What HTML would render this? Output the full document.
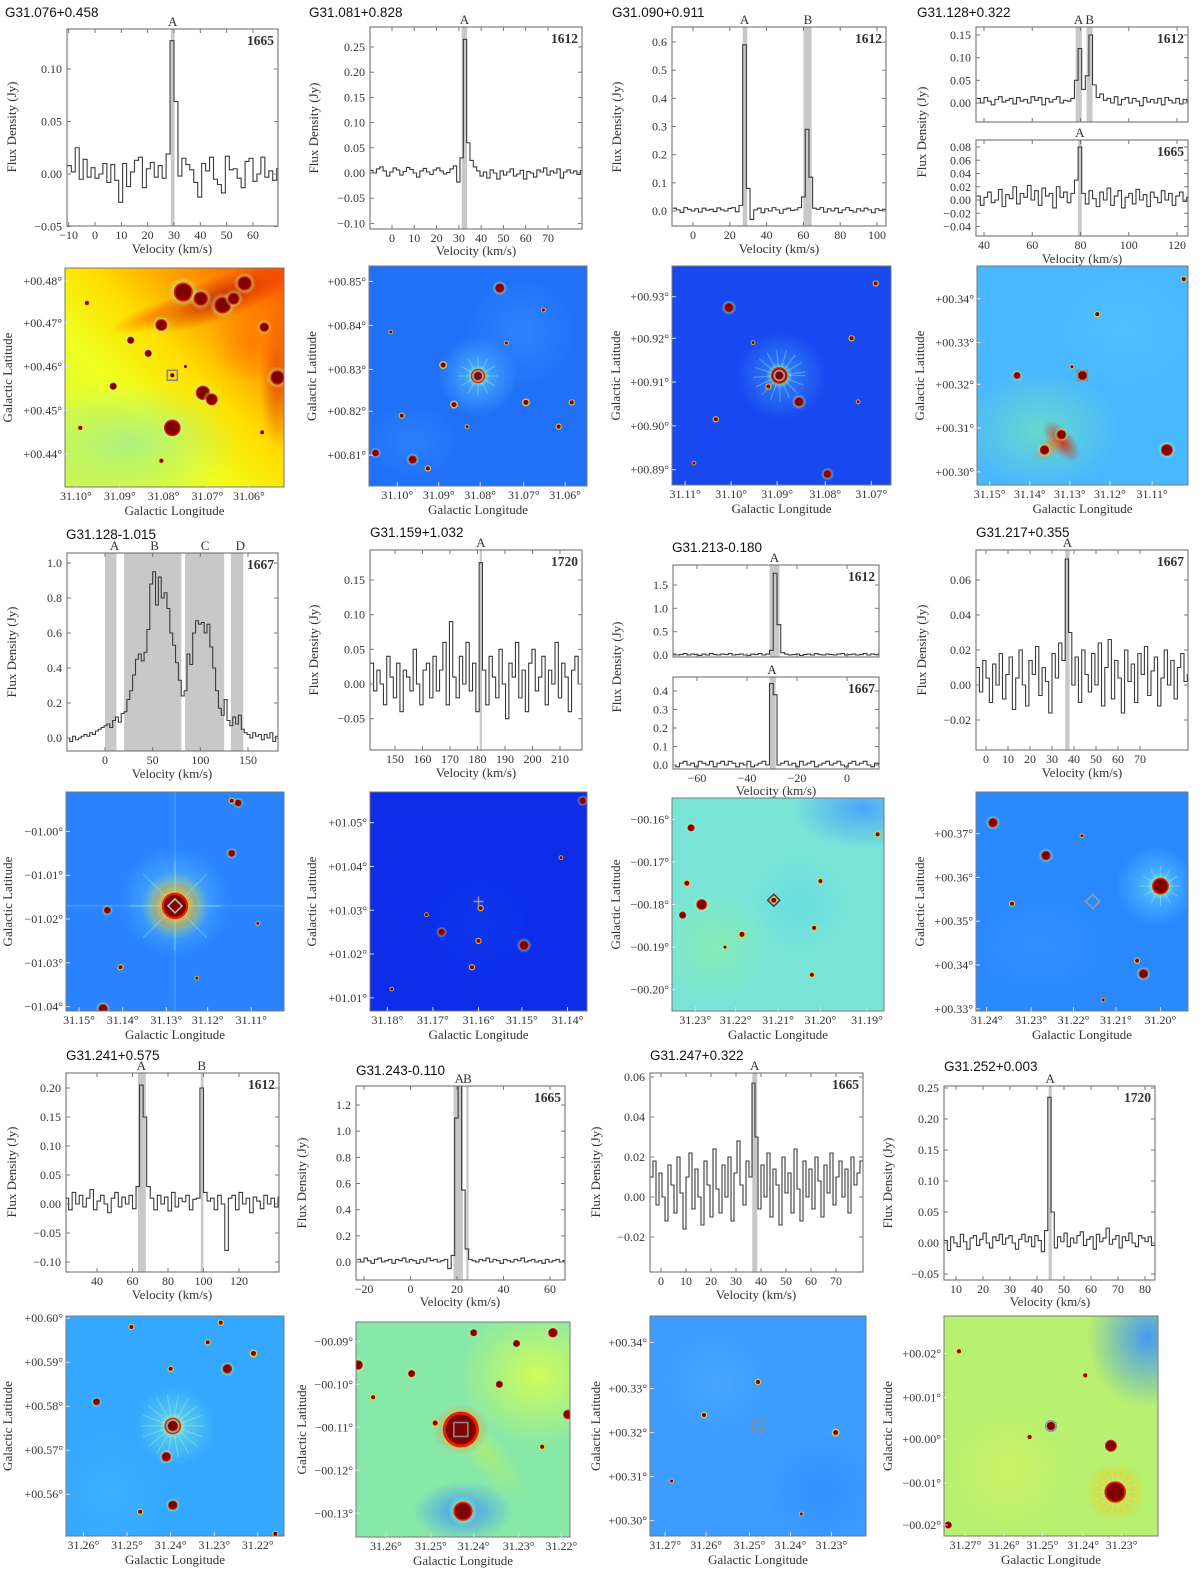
<!DOCTYPE html>
<html><head><meta charset="utf-8"><title>OH maser spectra and images</title>
<style>
html,body{margin:0;padding:0;background:#fff;}
svg{display:block;}
text{font-family:"Liberation Serif","DejaVu Serif",serif;fill:#333;}
.ttl{font-family:"Liberation Sans","DejaVu Sans",sans-serif;font-size:13.5px;fill:#111;}
</style></head>
<body>
<svg id="fig" xmlns="http://www.w3.org/2000/svg" width="1200" height="1571" viewBox="0 0 1200 1571">
<defs id="defs"></defs>
</svg>
<script>
// ---------------- spectral data (flux density, Jy) ----------------
const p1V0=-10.5, p1Dv=1.5;
const p1Flux=[0.008,0.002,0.025,-0.005,0.014,-0.003,0.006,-0.004,0.000,0.010,-0.008,0.009,-0.006,-0.027,0.010,-0.012,0.002,0.013,0.016,-0.013,0.005,0.011,-0.003,0.008,-0.004,0.019,0.127,0.069,-0.002,0.015,0.009,0.004,-0.008,-0.022,0.010,0.003,0.016,-0.005,-0.010,-0.018,0.017,0.004,0.005,-0.004,-0.013,0.012,0.015,-0.007,0.000,0.016,-0.003,0.003,-0.006,0.005];
const p1Bands=[[28.8,30.2]];
const p1Marks=['A'], p1MarkV=[29.5];

const p2V0=-10, p2Dv=1.5;
const p2Flux=[0.005,0.000,0.008,0.012,0.004,-0.006,0.002,0.010,0.006,-0.004,0.003,0.011,0.007,0.000,-0.008,0.004,0.009,0.002,-0.003,0.006,0.010,0.004,-0.002,0.001,0.008,0.014,-0.018,0.030,0.265,0.060,0.025,0.012,0.004,-0.006,0.002,-0.010,0.006,0.000,-0.012,0.004,-0.004,0.002,0.008,-0.006,-0.002,0.005,-0.012,0.003,0.000,-0.008,0.006,0.002,0.010,-0.004,0.004,0.000,0.008,-0.010,0.002,0.006,0.000,0.004,-0.003,0.005];
const p2Bands=[[31.3,33.7]];
const p2Marks=['A'], p2MarkV=[32.5];

const p3V0=-11, p3Dv=2;
const p3Flux=[0.010,0.004,-0.005,0.012,0.006,0.000,0.008,-0.004,0.010,0.003,0.006,-0.002,0.011,0.004,0.000,0.009,0.012,-0.003,0.020,0.590,0.080,-0.030,0.004,0.010,-0.006,0.008,0.000,0.012,0.004,-0.008,0.006,0.010,0.002,0.004,0.012,0.050,0.290,0.120,0.010,0.006,0.012,-0.004,0.008,0.000,0.010,-0.006,0.004,0.012,0.002,-0.004,0.008,0.000,0.010,0.004,-0.006,0.008,0.002,0.006];
const p3Bands=[[27,29.5],[60,64.5]];
const p3Marks=['A','B'], p3MarkV=[28,62.5];

const p4aV0=37, p4aDv=1.5;
const p4aFlux=[0.010,0.000,0.012,0.004,-0.004,0.008,0.014,0.002,0.006,0.010,-0.002,0.012,0.004,0.008,0.000,0.014,0.006,0.012,-0.004,0.010,0.002,0.008,0.014,0.000,0.006,0.004,0.010,0.050,0.120,0.030,0.060,0.150,0.040,0.012,0.020,0.006,0.010,0.000,0.014,-0.004,0.008,0.012,0.000,0.010,0.004,-0.006,0.012,0.002,0.008,0.000,0.010,-0.004,0.012,0.006,0.000,0.010,-0.002,0.008,0.004];
const p4aBands=[[78,80.5],[82.5,85]];
const p4aMarks=['A','B'], p4aMarkV=[79.2,83.8];
const p4bV0=37, p4bDv=1.5;
const p4bFlux=[0.006,-0.008,0.004,0.012,-0.004,0.000,0.016,-0.010,0.008,0.002,0.020,-0.006,0.010,0.004,0.022,0.000,0.014,-0.008,0.018,0.006,0.010,-0.012,0.020,0.004,0.012,-0.004,0.010,0.030,0.080,0.010,-0.006,0.014,0.002,-0.010,0.012,0.000,0.018,-0.008,0.006,0.014,-0.012,0.004,0.010,-0.006,0.016,0.000,0.008,-0.010,0.012,0.004,-0.004,0.014,0.000,0.010,-0.008,0.006,0.012,-0.002,0.004];
const p4bBands=[[79,80.5]];
const p4bMarks=['A'], p4bMarkV=[79.7];

const p5V0=-40, p5Dv=3;
const p5Flux=[0.00,-0.02,0.01,-0.01,0.00,0.01,0.02,0.01,0.03,0.02,0.04,0.05,0.06,0.07,0.08,0.06,0.10,0.12,0.09,0.14,0.15,0.22,0.27,0.36,0.45,0.48,0.44,0.49,0.62,0.88,0.95,0.76,0.92,0.80,0.83,0.74,0.60,0.53,0.43,0.33,0.24,0.27,0.48,0.42,0.60,0.67,0.65,0.66,0.60,0.65,0.52,0.40,0.27,0.17,0.13,0.22,0.10,0.07,0.12,0.08,0.13,0.05,0.03,0.02,0.00,0.03,0.01,0.02,-0.01,0.02,0.00,0.03,-0.02,0.01];
const p5Bands=[[0,12],[20,80],[84,125],[132,145]];
const p5Marks=['A','B','C','D'], p5MarkV=[10,52,105,142];

const p6V0=141, p6Dv=1.2;
const p6Flux=[0.030,-0.010,0.020,0.000,-0.030,0.040,0.010,-0.020,0.030,-0.040,0.020,0.010,-0.010,0.050,0.000,-0.030,0.020,0.030,-0.020,0.040,-0.010,0.020,0.060,-0.030,0.090,0.010,-0.020,0.040,0.000,0.060,-0.010,0.030,-0.040,0.175,0.020,-0.030,0.040,0.010,-0.020,0.050,0.000,-0.050,0.030,0.010,0.060,-0.020,0.020,-0.040,0.030,0.050,-0.010,0.010,0.040,-0.030,0.020,0.000,0.060,-0.020,0.030,0.010,-0.040,0.020,0.040,0.000];
const p6Bands=[[180.8,181.6]];
const p6Marks=['A'], p6MarkV=[181.2];

const p7aV0=-70, p7aDv=1.5;
const p7aFlux=[0.02,0.00,0.01,0.03,0.00,0.02,0.01,-0.01,0.02,0.00,0.03,0.01,0.00,0.02,0.01,0.03,0.00,0.01,0.02,0.00,-0.01,0.02,0.01,0.03,0.00,0.02,0.10,1.75,0.65,0.05,0.02,0.00,0.01,0.02,-0.01,0.01,0.02,0.00,0.03,0.01,0.00,0.02,0.01,0.00,0.02,0.03,0.00,0.01,0.02,0.00,0.01,0.03,0.00,0.02,0.01,0.02];
const p7aBands=[[-31,-27]];
const p7aMarks=['A'], p7aMarkV=[-29];
const p7bV0=-70, p7bDv=1.5;
const p7bFlux=[0.00,-0.01,0.01,0.02,0.00,0.01,-0.01,0.02,0.01,0.00,0.02,-0.01,0.01,0.02,0.00,0.02,0.01,-0.01,0.01,0.00,0.02,-0.01,0.00,0.01,0.02,0.00,0.44,0.38,0.00,0.01,0.02,0.00,0.01,-0.01,0.02,0.00,0.01,0.02,-0.01,0.00,0.01,0.02,0.00,0.01,0.02,0.00,-0.01,0.01,0.02,0.00,0.01,0.02,0.00,-0.01,0.01,0.00];
const p7bBands=[[-31,-28.5]];
const p7bMarks=['A'], p7bMarkV=[-30];

const p8V0=-4.5, p8Dv=1.5;
const p8Flux=[0.010,-0.004,0.014,0.004,-0.010,0.012,0.000,0.018,-0.008,0.006,0.016,-0.014,0.004,0.020,0.000,-0.012,0.014,0.006,0.022,-0.006,0.010,0.002,-0.016,0.018,0.004,0.024,0.014,0.072,0.030,0.000,0.016,-0.010,0.020,0.006,-0.004,0.018,0.000,0.024,-0.012,0.010,0.026,-0.008,0.014,0.004,-0.016,0.020,0.002,0.012,-0.010,0.018,0.006,0.022,-0.006,0.008,0.016,-0.012,0.004,0.020,0.000,0.014,-0.008,0.010,0.018,0.002,0.006];
const p8Bands=[[36,38]];
const p8Marks=['A'], p8MarkV=[37];

const p9V0=22, p9Dv=2;
const p9Flux=[0.010,-0.010,0.020,0.000,0.015,-0.005,0.010,0.025,-0.010,0.005,0.015,0.000,-0.015,0.010,0.020,-0.005,0.012,0.000,0.015,-0.008,0.030,0.205,0.150,0.030,0.010,-0.010,0.015,0.000,0.012,-0.012,0.020,-0.005,0.010,0.004,0.015,-0.010,0.008,0.010,0.200,0.020,0.005,0.010,-0.010,0.015,0.000,-0.080,0.010,0.015,-0.010,0.020,0.000,0.010,-0.015,0.012,0.005,-0.008,0.015,0.000,0.010,-0.005,0.012];
const p9Bands=[[63,67.5],[98.5,100]];
const p9Marks=['A','B'], p9MarkV=[65,99];

const p10V0=-23, p10Dv=1.5;
const p10Flux=[0.02,0.00,0.03,0.01,-0.01,0.02,0.03,0.00,0.01,0.02,-0.01,0.02,0.01,0.03,0.00,0.02,0.01,-0.01,0.02,0.00,0.03,0.01,0.02,0.00,0.01,0.02,-0.05,0.05,1.10,1.35,0.55,0.10,0.02,0.01,0.00,0.02,0.01,0.03,0.00,0.02,0.01,-0.01,0.02,0.01,0.00,0.02,0.01,0.03,0.00,0.01,0.02,0.00,0.01,-0.01,0.02,0.00,0.01,0.02,0.00,0.01];
const p10Bands=[[18.5,22.5],[24,25]];
const p10Marks=['A','B'], p10MarkV=[21,24.5];

const p11V0=-4.4, p11Dv=1.2;
const p11Flux=[0.010,0.018,-0.004,0.012,0.000,-0.012,0.016,0.006,-0.008,0.020,0.002,-0.016,0.010,0.022,-0.006,0.014,0.000,-0.014,0.018,0.006,-0.010,0.024,0.004,-0.008,0.016,0.000,0.020,-0.012,0.012,0.028,0.006,-0.004,0.018,0.010,0.057,0.030,-0.006,0.016,0.000,0.022,-0.010,0.014,0.006,-0.014,0.020,0.002,0.012,-0.008,0.024,0.004,-0.012,0.018,0.000,0.014,-0.006,0.020,0.008,-0.010,0.016,0.002,0.022,-0.004,0.010,0.018,0.000,0.014,-0.008,0.020,0.006,0.012,0.018];
const p11Bands=[[36.5,38.5]];
const p11Marks=['A'], p11MarkV=[37.5];

const p12V0=5.6, p12Dv=1.2;
const p12Flux=[0.004,-0.012,0.010,0.000,-0.006,0.014,0.002,-0.010,0.008,0.012,-0.004,0.006,0.016,0.000,-0.008,0.010,0.004,0.014,-0.002,0.008,0.012,0.000,-0.010,0.006,0.014,0.002,0.010,-0.006,0.012,0.004,-0.014,0.020,0.235,0.050,-0.008,0.010,0.002,0.016,-0.006,0.008,0.000,0.012,0.018,-0.004,0.006,0.010,-0.010,0.014,0.002,0.008,0.024,-0.002,0.006,0.012,-0.008,0.010,0.004,0.016,0.000,-0.006,0.012,0.008,0.002,0.010,-0.004];
const p12Bands=[[44.3,45.5]];
const p12Marks=['A'], p12MarkV=[44.9];

// tick values
const p1XT=[-10,0,10,20,30,40,50,60], p1YT=[-0.05,0,0.05,0.10];
const p2XT=[0,10,20,30,40,50,60,70], p2YT=[-0.10,-0.05,0,0.05,0.10,0.15,0.20,0.25];
const p3XT=[0,20,40,60,80,100], p3YT=[0,0.1,0.2,0.3,0.4,0.5,0.6];
const p4XT=[40,60,80,100,120], p4aYT=[0,0.05,0.10,0.15], p4bYT=[-0.04,-0.02,0,0.02,0.04,0.06,0.08];
const p5XT=[0,50,100,150], p5YT=[0,0.2,0.4,0.6,0.8,1.0];
const p6XT=[150,160,170,180,190,200,210], p6YT=[-0.05,0,0.05,0.10,0.15];
const p7XT=[-60,-40,-20,0], p7aYT=[0,0.5,1.0,1.5], p7bYT=[0,0.1,0.2,0.3,0.4];
const p8XT=[0,10,20,30,40,50,60,70], p8YT=[-0.02,0,0.02,0.04,0.06];
const p9XT=[40,60,80,100,120], p9YT=[-0.10,-0.05,0,0.05,0.10,0.15,0.20];
const p10XT=[-20,0,20,40,60], p10YT=[0,0.2,0.4,0.6,0.8,1.0,1.2];
const p11XT=[0,10,20,30,40,50,60,70], p11YT=[-0.02,0,0.02,0.04,0.06];
const p12XT=[10,20,30,40,50,60,70,80], p12YT=[-0.05,0,0.05,0.10,0.15,0.20,0.25];

// ---------------- helpers ----------------
const NS='http://www.w3.org/2000/svg';
const svg=document.getElementById('fig');
const defs=document.getElementById('defs');
let uid=0;
function mk(tag,attrs,parent){const e=document.createElementNS(NS,tag);for(const k in attrs)e.setAttribute(k,attrs[k]);(parent||svg).appendChild(e);return e;}
function lin(a0,p0,a1,p1){const s=(p1-p0)/(a1-a0);return v=>p0+(v-a0)*s;}
function fmt(v,d){const s=Math.abs(v).toFixed(d);return (v<-1e-9?'\u2212':'')+s;}
function txt(str,x,y,size,anchor,parent,cls){const t=mk('text',{x:x,y:y,'font-size':size,'text-anchor':anchor||'start'},parent);if(cls)t.setAttribute('class',cls);t.textContent=str;return t;}

function drawTitle(str,x,y){
  const t=txt(str,x,y,13.5,'start',svg,'ttl');
  
  
}
function yLabel(str,x,yc,parent){
  const t=mk('text',{x:x,y:yc,'font-size':13,'text-anchor':'middle',transform:'rotate(-90 '+x+' '+yc+')',fill:'#444'},parent);
  t.textContent=str;
  
  
}
function xLabel(str,xc,y,parent){
  const t=mk('text',{x:xc,y:y,'font-size':13,'text-anchor':'middle',fill:'#444'},parent);
  t.textContent=str;
  
  
}

// spectrum sub-panel
function spec(o){
  const g=mk('g',{});
  
  
  const b=o.box, xs=lin(o.xc[0],o.xc[1],o.xc[2],o.xc[3]), ys=lin(o.yc[0],o.yc[1],o.yc[2],o.yc[3]);
  const id='cp'+(uid++);
  const cp=mk('clipPath',{id:id},defs);
  mk('rect',{x:b[0],y:b[2],width:b[1]-b[0],height:b[3]-b[2]},cp);
  const inner=mk('g',{'clip-path':'url(#'+id+')'},g);
  o.bands.forEach(bd=>{
    const r=mk('rect',{x:xs(bd[0]),y:b[2],width:xs(bd[1])-xs(bd[0]),height:b[3]-b[2],fill:'#c8c8c8'},inner);
    
    
  });
  let d='';
  o.flux.forEach((f,i)=>{const xa=xs(o.v0+i*o.dv),xb=xs(o.v0+(i+1)*o.dv),y=ys(f);d+=(i===0?'M'+xa+' '+y:'V'+y)+'H'+xb;});
  const p=mk('path',{d:d,fill:'none',stroke:'#3a3a3a','stroke-width':1.1},inner);
  
  
  const fr=mk('rect',{x:b[0],y:b[2],width:b[1]-b[0],height:b[3]-b[2],fill:'none',stroke:'#666','stroke-width':1},g);
  
  
  o.xt.forEach(v=>{
    const x=xs(v);
    mk('line',{x1:x,x2:x,y1:b[3],y2:b[3]-4,stroke:'#777'},g);
    mk('line',{x1:x,x2:x,y1:b[2],y2:b[2]+4,stroke:'#777'},g);
    if(o.showX){const t=txt(fmt(v,0),x,b[3]+13,12,'middle',g);
      
      }
  });
  o.yt.forEach(v=>{
    const y=ys(v);
    mk('line',{x1:b[0],x2:b[0]+4,y1:y,y2:y,stroke:'#777'},g);
    mk('line',{x1:b[1],x2:b[1]-4,y1:y,y2:y,stroke:'#777'},g);
    const t=txt(fmt(v,o.yd),b[0]-5,y+4,12,'end',g);
    
    
  });
  o.marks.forEach((m,i)=>{
    const t=txt(m,xs(o.markV[i]),b[2]-3,13,'middle',g);
    
    
  });
  const tr=txt(o.freq,b[1]-4,b[2]+16,13.5,'end',g);
  tr.setAttribute('font-weight','bold');
  tr.setAttribute('fill','#111');
  
  
}

// ---------------- spectra ----------------
drawTitle('G31.076+0.458',5,17);
spec({box:[67,278,29,226],xc:[0,95,60,253],yc:[0,174,0.10,69],v0:p1V0,dv:p1Dv,flux:p1Flux,bands:p1Bands,marks:p1Marks,markV:p1MarkV,xt:p1XT,yt:p1YT,yd:2,showX:true,freq:'1665'});
yLabel('Flux Density (Jy)',16,127);xLabel('Velocity (km/s)',172,253);

drawTitle('G31.081+0.828',309,17);
spec({box:[370,582,27,229],xc:[0,392,70,548],yc:[0,173,0.25,47],v0:p2V0,dv:p2Dv,flux:p2Flux,bands:p2Bands,marks:p2Marks,markV:p2MarkV,xt:p2XT,yt:p2YT,yd:2,showX:true,freq:'1612'});
yLabel('Flux Density (Jy)',318,128);xLabel('Velocity (km/s)',476,255);

drawTitle('G31.090+0.911',612,17);
spec({box:[672,886,27,226],xc:[0,693,100,877],yc:[0,211,0.6,42],v0:p3V0,dv:p3Dv,flux:p3Flux,bands:p3Bands,marks:p3Marks,markV:p3MarkV,xt:p3XT,yt:p3YT,yd:1,showX:true,freq:'1612'});
yLabel('Flux Density (Jy)',621,127);xLabel('Velocity (km/s)',779,253);

drawTitle('G31.128+0.322',917,17);
spec({box:[976,1188,27,122],xc:[40,984,120,1177],yc:[0,103,0.15,35],v0:p4aV0,dv:p4aDv,flux:p4aFlux,bands:p4aBands,marks:p4aMarks,markV:p4aMarkV,xt:p4XT,yt:p4aYT,yd:2,showX:false,freq:'1612'});
spec({box:[976,1188,140,236],xc:[40,984,120,1177],yc:[0,200,0.08,147],v0:p4bV0,dv:p4bDv,flux:p4bFlux,bands:p4bBands,marks:p4bMarks,markV:p4bMarkV,xt:p4XT,yt:p4bYT,yd:2,showX:true,freq:'1665'});
yLabel('Flux Density (Jy)',926,132);xLabel('Velocity (km/s)',1082,263);

drawTitle('G31.128-1.015',66,539);
spec({box:[67,278,553,751],xc:[0,105,150,248],yc:[0,738,1.0,563],v0:p5V0,dv:p5Dv,flux:p5Flux,bands:p5Bands,marks:p5Marks,markV:p5MarkV,xt:p5XT,yt:p5YT,yd:1,showX:true,freq:'1667'});
yLabel('Flux Density (Jy)',16,652);xLabel('Velocity (km/s)',172,778);

drawTitle('G31.159+1.032',370,537);
spec({box:[370,582,550,750],xc:[150,395,210,560],yc:[0,684,0.15,580],v0:p6V0,dv:p6Dv,flux:p6Flux,bands:p6Bands,marks:p6Marks,markV:p6MarkV,xt:p6XT,yt:p6YT,yd:2,showX:true,freq:'1720'});
yLabel('Flux Density (Jy)',318,650);xLabel('Velocity (km/s)',476,777);

drawTitle('G31.213-0.180',672,552);
spec({box:[673,879,565,657],xc:[-60,697,0,847],yc:[0,655,1.5,585],v0:p7aV0,dv:p7aDv,flux:p7aFlux,bands:p7aBands,marks:p7aMarks,markV:p7aMarkV,xt:p7XT,yt:p7aYT,yd:1,showX:false,freq:'1612'});
spec({box:[673,879,677,769],xc:[-60,697,0,847],yc:[0,765,0.4,691],v0:p7bV0,dv:p7bDv,flux:p7bFlux,bands:p7bBands,marks:p7bMarks,markV:p7bMarkV,xt:p7XT,yt:p7bYT,yd:1,showX:true,freq:'1667'});
yLabel('Flux Density (Jy)',621,667);xLabel('Velocity (km/s)',776,795);

drawTitle('G31.217+0.355',976,537);
spec({box:[976,1188,550,750],xc:[0,986,70,1140],yc:[0,685,0.06,580],v0:p8V0,dv:p8Dv,flux:p8Flux,bands:p8Bands,marks:p8Marks,markV:p8MarkV,xt:p8XT,yt:p8YT,yd:2,showX:true,freq:'1667'});
yLabel('Flux Density (Jy)',926,650);xLabel('Velocity (km/s)',1082,777);

drawTitle('G31.241+0.575',66,1060);
spec({box:[66,279,1073,1272],xc:[40,97,120,239],yc:[0,1204,0.20,1088],v0:p9V0,dv:p9Dv,flux:p9Flux,bands:p9Bands,marks:p9Marks,markV:p9MarkV,xt:p9XT,yt:p9YT,yd:2,showX:true,freq:'1612'});
yLabel('Flux Density (Jy)',16,1172);xLabel('Velocity (km/s)',172,1299);

drawTitle('G31.243-0.110',356,1075);
spec({box:[356,565,1086,1280],xc:[-20,364,60,550],yc:[0,1262,1.2,1105],v0:p10V0,dv:p10Dv,flux:p10Flux,bands:p10Bands,marks:p10Marks,markV:p10MarkV,xt:p10XT,yt:p10YT,yd:1,showX:true,freq:'1665'});
yLabel('Flux Density (Jy)',306,1183);xLabel('Velocity (km/s)',460,1306);

drawTitle('G31.247+0.322',650,1060);
spec({box:[650,863,1073,1272],xc:[0,661,70,836],yc:[0,1197,0.06,1077],v0:p11V0,dv:p11Dv,flux:p11Flux,bands:p11Bands,marks:p11Marks,markV:p11MarkV,xt:p11XT,yt:p11YT,yd:2,showX:true,freq:'1665'});
yLabel('Flux Density (Jy)',600,1172);xLabel('Velocity (km/s)',756,1299);

drawTitle('G31.252+0.003',944,1071);
spec({box:[944,1155,1086,1280],xc:[10,956,80,1145],yc:[0,1243,0.25,1088],v0:p12V0,dv:p12Dv,flux:p12Flux,bands:p12Bands,marks:p12Marks,markV:p12MarkV,xt:p12XT,yt:p12YT,yd:2,showX:true,freq:'1720'});
yLabel('Flux Density (Jy)',892,1183);xLabel('Velocity (km/s)',1050,1306);

// ---------------- infrared images ----------------
function grad(stops,x1,y1,x2,y2){
  const id='lg'+(uid++);
  const lg=mk('linearGradient',{id:id,x1:x1,y1:y1,x2:x2,y2:y2},defs);
  stops.forEach(s=>mk('stop',{offset:s[0],'stop-color':s[1]},lg));
  return 'url(#'+id+')';
}
function rgrad(stops){
  const id='rg'+(uid++);
  const lg=mk('radialGradient',{id:id},defs);
  stops.forEach(s=>mk('stop',{offset:s[0],'stop-color':s[1],'stop-opacity':s[2]===undefined?1:s[2]},lg));
  return 'url(#'+id+')';
}
const glowFill=()=>rgrad([[0,'#ffff40',0.9],[0.6,'#c0ff60',0.5],[1,'#80ffff',0]]);
function img(o){
  const g=mk('g',{});
  
  
  const b=o.box,W=b[1]-b[0],H=b[3]-b[2];
  const id='ic'+(uid++);
  const cp=mk('clipPath',{id:id},defs);
  mk('rect',{x:b[0],y:b[2],width:W,height:H},cp);
  const inner=mk('g',{'clip-path':'url(#'+id+')'},g);
  mk('rect',{x:b[0],y:b[2],width:W,height:H,fill:o.bg},inner);
  (o.patches||[]).forEach(p=>{
    mk('ellipse',{cx:b[0]+p[0]*W,cy:b[2]+p[1]*H,rx:p[2],ry:p[3],fill:rgrad([[0,p[4],p[5]],[1,p[4],0]]),transform:'rotate('+(p[6]||0)+' '+(b[0]+p[0]*W)+' '+(b[2]+p[1]*H)+')'},inner);
  });
  (o.spikes||[]).forEach(s=>{
    const cx=b[0]+s[0]*W,cy=b[2]+s[1]*H;
    for(let a=0;a<360;a+=s[3]){const r=a*Math.PI/180;
      mk('line',{x1:cx,y1:cy,x2:cx+Math.cos(r)*s[2],y2:cy+Math.sin(r)*s[2],stroke:'#a0ffd0','stroke-opacity':s[4]||0.45,'stroke-width':1.2},inner);}
  });
  o.stars.forEach(s=>{
    const cx=b[0]+s[0]*W,cy=b[2]+s[1]*H,r=s[2];
    if(r>2.5){mk('circle',{cx:cx,cy:cy,r:r*1.9,fill:glowFill()},inner);
      mk('circle',{cx:cx,cy:cy,r:r*1.2,fill:'#e82000'},inner);}
    else mk('circle',{cx:cx,cy:cy,r:r*1.6,fill:'#ffd020','fill-opacity':0.8},inner);
    const c=mk('circle',{cx:cx,cy:cy,r:r,fill:'#800000'},inner);
    
    
  });
  const m=o.marker, mx=b[0]+m[1]*W, my=b[2]+m[2]*H, ms=m[3];
  let me;
  if(m[0]==='square') me=mk('rect',{x:mx-ms,y:my-ms,width:2*ms,height:2*ms,fill:'none',stroke:'#8a8a8a','stroke-width':1.6},g);
  else if(m[0]==='circle') me=mk('circle',{cx:mx,cy:my,r:ms,fill:'none',stroke:'#9a9a9a','stroke-width':2},g);
  else if(m[0]==='diamond') me=mk('polygon',{points:(mx)+','+(my-ms)+' '+(mx+ms)+','+my+' '+mx+','+(my+ms)+' '+(mx-ms)+','+my,fill:'none',stroke:m[4]||'#999','stroke-width':1.6},g);
  else me=mk('path',{d:'M'+(mx-ms)+' '+my+'H'+(mx+ms)+'M'+mx+' '+(my-ms)+'V'+(my+ms),stroke:'#999','stroke-width':1.4},g);
  
  
  const fr=mk('rect',{x:b[0],y:b[2],width:W,height:H,fill:'none',stroke:'#777','stroke-width':1},g);
  
  
  o.yl.forEach((l,i)=>{const y=b[2]+o.yf[i]*H;
    mk('line',{x1:b[0],x2:b[0]+4,y1:y,y2:y,stroke:'#ddd'},g);
    const t=txt(l+'\u00b0',b[0]-3,y+4,12,'end',g);
    
    });
  o.xl.forEach((l,i)=>{const x=b[0]+o.xf[i]*W;
    mk('line',{x1:x,x2:x,y1:b[3],y2:b[3]-4,stroke:'#ddd'},g);
    const t=txt(l+'\u00b0',x,b[3]+13,12,'middle',g);
    
    });
  yLabel('Galactic Latitude',o.ylx,(b[2]+b[3])/2);
  xLabel('Galactic Longitude',(b[0]+b[1])/2,b[3]+28);
}

img({box:[65,284,268,487],bg:grad([[0,'#c8f850'],[0.35,'#f0ff20'],[0.55,'#ffe000'],[0.75,'#ff9a00'],[1,'#ff5000']],'0','1','1','0'),
 patches:[[0.3,0.8,110,60,'#a8f088',0.9],[0.7,0.14,80,22,'#c01000',0.8,-20],[0.97,0.5,18,70,'#e03000',0.7],[0.4,0.22,45,12,'#ff7000',0.7,-20],[0.85,0.35,40,40,'#ff7000',0.6]],
 stars:[[0.54,0.11,8],[0.62,0.14,6],[0.82,0.07,6],[0.72,0.17,7],[0.77,0.14,5],[0.44,0.26,5],[0.91,0.27,4],[0.97,0.5,6],[0.63,0.57,6],[0.67,0.6,5],[0.49,0.73,7],[0.3,0.33,3],[0.38,0.39,3],[0.22,0.54,3],[0.44,0.88,2],[0.07,0.73,2],[0.9,0.75,2],[0.49,0.49,2],[0.55,0.45,1.5],[0.1,0.16,2]],
 marker:['square',0.49,0.49,5],yl:['+00.48','+00.47','+00.46','+00.45','+00.44'],yf:[0.06,0.25,0.45,0.65,0.85],xl:['31.10','31.09','31.08','31.07','31.06'],xf:[0.05,0.25,0.45,0.65,0.84],ylx:12});

img({box:[369,587,266,486],bg:'#2070f8',patches:[[0.5,0.5,40,40,'#60d0ff',0.7],[0.7,0.3,60,60,'#3890ff',0.6],[0.2,0.8,50,40,'#3890ff',0.5]],
 spikes:[[0.5,0.5,20,30,0.35]],
 stars:[[0.5,0.5,6],[0.6,0.1,4],[0.34,0.45,2.5],[0.39,0.63,2.5],[0.72,0.62,2.5],[0.15,0.68,2],[0.2,0.88,3.5],[0.03,0.85,3],[0.87,0.73,2],[0.93,0.62,2],[0.27,0.92,2],[0.45,0.73,1.5],[0.63,0.35,1.5],[0.8,0.2,1.5],[0.1,0.3,1.5]],
 marker:['circle',0.5,0.5,5],yl:['+00.85','+00.84','+00.83','+00.82','+00.81'],yf:[0.07,0.27,0.47,0.66,0.86],xl:['31.10','31.09','31.08','31.07','31.06'],xf:[0.13,0.32,0.51,0.71,0.9],ylx:316});

img({box:[672,891,266,485],bg:'#1848f0',patches:[[0.5,0.5,45,45,'#40a0ff',0.7]],
 spikes:[[0.49,0.5,26,22,0.35]],
 stars:[[0.49,0.5,7],[0.26,0.19,4],[0.58,0.62,4],[0.44,0.55,2],[0.71,0.95,3.5],[0.82,0.33,2],[0.93,0.08,2],[0.2,0.7,2],[0.85,0.62,1.5],[0.1,0.9,1.5],[0.37,0.35,1.5]],
 marker:['circle',0.49,0.5,5],yl:['+00.93','+00.92','+00.91','+00.90','+00.89'],yf:[0.14,0.33,0.53,0.73,0.93],xl:['31.11','31.10','31.09','31.08','31.07'],xf:[0.06,0.27,0.48,0.7,0.91],ylx:620});

img({box:[977,1188,266,485],bg:'#48b8ff',patches:[[0.3,0.75,80,60,'#70e0c0',0.8],[0.7,0.3,70,60,'#58c8ff',0.6],[0.4,0.8,25,12,'#e02000',0.9,50],[0.34,0.83,18,10,'#ff8000',0.7,-40]],
 stars:[[0.5,0.5,4],[0.9,0.84,5],[0.19,0.5,3],[0.57,0.22,2],[0.98,0.06,2],[0.45,0.46,1.5],[0.32,0.84,4],[0.4,0.77,4]],
 marker:['square',0.5,0.5,5],yl:['+00.34','+00.33','+00.32','+00.31','+00.30'],yf:[0.15,0.35,0.54,0.74,0.94],xl:['31.15','31.14','31.13','31.12','31.11'],xf:[0.06,0.25,0.44,0.63,0.83],ylx:924});

img({box:[66,284,792,1011],bg:'#2a84ff',patches:[[0.5,0.5,55,55,'#60c8ff',0.8],[0.5,0.52,34,34,'#ffe000',0.95],[0.5,0.52,24,24,'#ff3000',0.95]],
 spikes:[[0.5,0.52,45,45,0.35],[0.5,0.52,140,90,0.25]],
 stars:[[0.5,0.52,11],[0.76,0.28,3],[0.79,0.05,3],[0.76,0.04,2],[0.19,0.54,3],[0.25,0.8,2],[0.17,0.99,4],[0.88,0.6,1.5],[0.6,0.85,1.5]],
 marker:['diamond',0.5,0.52,7,'#bbb'],yl:['\u221201.00','\u221201.01','\u221201.02','\u221201.03','\u221201.04'],yf:[0.18,0.38,0.58,0.78,0.98],xl:['31.15','31.14','31.13','31.12','31.11'],xf:[0.06,0.26,0.46,0.65,0.85],ylx:12});

img({box:[370,587,792,1011],bg:'#0c2ce8',patches:[[0.5,0.6,60,60,'#1040f0',0.6]],
 stars:[[0.33,0.64,3],[0.5,0.68,2],[0.71,0.7,4],[0.51,0.53,2],[0.98,0.04,3],[0.47,0.8,2],[0.1,0.9,1.5],[0.88,0.3,1.5],[0.26,0.56,1.5]],
 marker:['plus',0.5,0.5,5],yl:['+01.05','+01.04','+01.03','+01.02','+01.01'],yf:[0.14,0.34,0.54,0.74,0.94],xl:['31.18','31.17','31.16','31.15','31.14'],xf:[0.08,0.29,0.5,0.7,0.91],ylx:316});

img({box:[672,884,798,1011],bg:'#78e4d8',patches:[[0.9,0.05,70,40,'#4098ff',0.8],[0.2,0.7,60,60,'#90f0a0',0.6],[0.6,0.5,50,50,'#60d8e8',0.6]],
 stars:[[0.09,0.14,3],[0.07,0.4,2.5],[0.14,0.5,4.5],[0.05,0.55,3],[0.33,0.64,2.5],[0.48,0.48,2.5],[0.7,0.39,2],[0.67,0.61,2],[0.66,0.83,2],[0.97,0.17,2],[0.25,0.7,1.5]],
 marker:['diamond',0.48,0.48,6,'#444'],yl:['\u221200.16','\u221200.17','\u221200.18','\u221200.19','\u221200.20'],yf:[0.1,0.3,0.5,0.7,0.9],xl:['31.23','31.22','31.21','31.20','31.19'],xf:[0.11,0.3,0.5,0.7,0.92],ylx:620});

img({box:[976,1188,792,1011],bg:'#2a88ff',patches:[[0.85,0.43,40,40,'#60d0ff',0.8],[0.3,0.7,70,50,'#3a98ff',0.5]],
 spikes:[[0.87,0.43,20,30,0.35]],
 stars:[[0.08,0.14,4],[0.33,0.29,4],[0.87,0.43,7],[0.79,0.83,4],[0.76,0.77,2],[0.17,0.51,2],[0.6,0.95,1.5],[0.5,0.2,1.5]],
 marker:['diamond',0.55,0.5,7,'#999'],yl:['+00.37','+00.36','+00.35','+00.34','+00.33'],yf:[0.19,0.39,0.59,0.79,0.99],xl:['31.24','31.23','31.22','31.21','31.20'],xf:[0.05,0.26,0.46,0.66,0.87],ylx:924});

img({box:[66,284,1316,1536],bg:'#34a8ff',patches:[[0.5,0.5,40,40,'#70e0e0',0.8],[0.2,0.8,60,60,'#48b8ff',0.5]],
 spikes:[[0.49,0.5,32,20,0.35]],
 stars:[[0.49,0.5,7],[0.46,0.64,4],[0.49,0.86,4],[0.74,0.24,4],[0.14,0.39,3],[0.71,0.03,2],[0.34,0.89,2],[0.96,0.99,2],[0.48,0.24,2],[0.86,0.17,2.5],[0.3,0.05,2],[0.65,0.12,2]],
 marker:['circle',0.49,0.5,6],yl:['+00.60','+00.59','+00.58','+00.57','+00.56'],yf:[0.01,0.21,0.41,0.61,0.81],xl:['31.26','31.25','31.24','31.23','31.22'],xf:[0.08,0.28,0.48,0.68,0.88],ylx:12});

img({box:[356,570,1322,1537],bg:'#88e8a8',patches:[[0.85,0.25,80,70,'#d8ff50',0.9],[0.5,0.88,50,30,'#3890ff',0.9],[0.6,0.6,60,20,'#c0f060',0.6,50],[0.49,0.5,28,26,'#e02000',0.9]],
 stars:[[0.49,0.5,15],[0.5,0.88,8],[0.26,0.24,3],[0.01,0.2,4],[0.55,0.05,3],[0.75,0.1,3],[0.67,0.29,3],[0.99,0.43,4],[0.92,0.05,4],[0.37,0.47,2.5],[0.87,0.58,2],[0.08,0.35,2]],
 marker:['square',0.49,0.5,7],yl:['\u221200.09','\u221200.10','\u221200.11','\u221200.12','\u221200.13'],yf:[0.09,0.29,0.49,0.69,0.89],xl:['31.26','31.25','31.24','31.23','31.22'],xf:[0.14,0.35,0.55,0.76,0.96],ylx:306});

img({box:[650,866,1316,1536],bg:'#3c9cff',patches:[[0.3,0.3,60,60,'#50b0ff',0.5],[0.8,0.8,60,60,'#2a88ff',0.5]],
 stars:[[0.5,0.3,2],[0.86,0.53,2.5],[0.25,0.45,2],[0.1,0.75,1.5],[0.7,0.9,1.5]],
 marker:['square',0.5,0.5,5],yl:['+00.34','+00.33','+00.32','+00.31','+00.30'],yf:[0.12,0.33,0.53,0.73,0.93],xl:['31.27','31.26','31.25','31.24','31.23'],xf:[0.07,0.26,0.46,0.65,0.84],ylx:600});

img({box:[944,1158,1316,1536],bg:'#b8f070',patches:[[0.95,0.1,60,70,'#3a90ff',0.9],[0.8,0.8,30,30,'#ffc000',0.9],[0.3,0.7,60,60,'#d8f860',0.6]],
 spikes:[[0.8,0.8,22,20,0.35]],
 stars:[[0.5,0.5,5],[0.78,0.59,5],[0.8,0.8,9],[0.02,0.95,3],[0.66,0.27,2],[0.07,0.16,2],[0.4,0.55,2]],
 marker:['circle',0.5,0.5,5],yl:['+00.02','+00.01','+00.00','\u221200.01','\u221200.02'],yf:[0.17,0.37,0.56,0.76,0.95],xl:['31.27','31.26','31.25','31.24','31.23'],xf:[0.1,0.28,0.46,0.65,0.83],ylx:892});
</script>
</body></html>
